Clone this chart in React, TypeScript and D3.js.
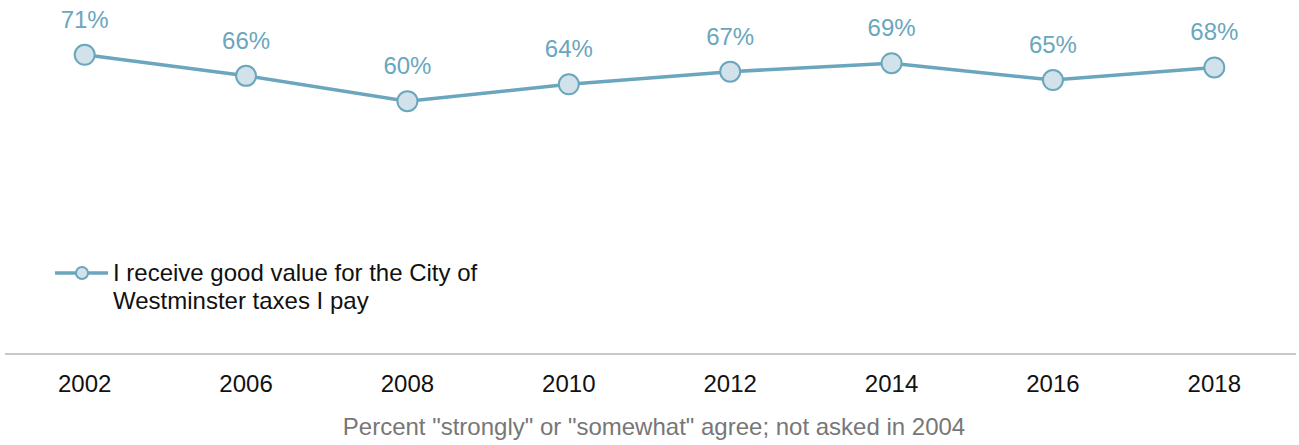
import React from "react";
import * as d3 from "d3";

const years = ["2002", "2006", "2008", "2010", "2012", "2014", "2016", "2018"];
const values = [71, 66, 60, 64, 67, 69, 65, 68];
const seriesName = ["I receive good value for the City of", "Westminster taxes I pay"];
const caption = 'Percent "strongly" or "somewhat" agree; not asked in 2004';

const W = 1299;
const H = 445;
const LINE = "#6aa6bd";
const FILL = "#d2e2ea";
const FONT = "Liberation Sans, Arial, Helvetica, sans-serif";

export default function App() {
  const x = d3.scalePoint<string>().domain(years).range([4, 1295]).padding(0.5);
  const y = d3.scaleLinear().domain([0, 84]).range([354, 0]);
  const line = d3
    .line<number>()
    .x((_, i) => x(years[i]) as number)
    .y((d) => y(d));

  return (
    <svg width={W} height={H} style={{ position: "absolute", left: 0, top: 0, fontFamily: FONT }}>
      <line x1={5} x2={1296} y1={354} y2={354} stroke="#c8c8c8" strokeWidth={2} />
      <path d={line(values) || ""} fill="none" stroke={LINE} strokeWidth={3.5} />
      {values.map((v, i) => (
        <g key={years[i]}>
          <circle cx={x(years[i])} cy={y(v)} r={10} fill={FILL} stroke={LINE} strokeWidth={2} />
          <text x={x(years[i])} y={y(v) - 27} textAnchor="middle" fontSize={24} fill={LINE}>
            {v}%
          </text>
        </g>
      ))}
      {years.map((yr) => (
        <text key={yr} x={x(yr)} y={392} textAnchor="middle" fontSize={24} fill="#111">
          {yr}
        </text>
      ))}
      <text x={654} y={435} textAnchor="middle" fontSize={24} fill="#777">
        {caption}
      </text>
      <g>
        <line x1={55} x2={108} y1={273} y2={273} stroke={LINE} strokeWidth={3.5} />
        <circle cx={82} cy={273} r={6} fill={FILL} stroke={LINE} strokeWidth={2} />
        {seriesName.map((t, i) => (
          <text key={i} x={113} y={281 + i * 28} fontSize={24} fill="#111">
            {t}
          </text>
        ))}
      </g>
    </svg>
  );
}
